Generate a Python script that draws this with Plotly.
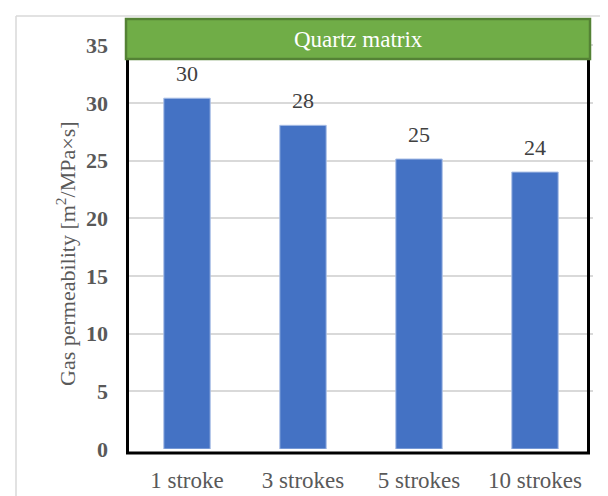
import plotly.graph_objects as go

categories = ["1 stroke", "3 strokes", "5 strokes", "10 strokes"]
permeability = [30.4, 28.05, 25.13, 24.0]
labels = ["30", "28", "25", "24"]
y_ticks = [0, 5, 10, 15, 20, 25, 30, 35]
panel_title = "Quartz matrix"
y_title = "Gas permeability [m<sup>2</sup>/MPa×s]"

FONT = "Liberation Serif, Times New Roman, serif"

W, H = 608, 496
L, R, T, B = 121, 23, 10, 55
ymax = 37.35

fig = go.Figure()
fig.add_trace(go.Bar(
    x=categories, y=permeability,
    marker=dict(color="#4472C4", line=dict(color="#A9BEE6", width=1)),
    width=0.4,
    hoverinfo="skip",
))

for c, v, t in zip(categories, permeability, labels):
    fig.add_annotation(x=c, y=v, text=t, showarrow=False, yanchor="bottom",
                       yshift=10, font=dict(family=FONT, size=22, color="#404040"))

pw = W - L - R
ph = H - T - B
def px_x(p):
    return (p - L) / pw
def px_y(p):
    return (H - B - p) / ph

shapes = [
    # outer light border
    dict(type="line", xref="paper", yref="paper", x0=px_x(8), x1=px_x(608), y0=px_y(8), y1=px_y(8),
         line=dict(color="#D9D9D9", width=1.5)),
    dict(type="line", xref="paper", yref="paper", x0=px_x(8), x1=px_x(8), y0=px_y(8), y1=px_y(496),
         line=dict(color="#D9D9D9", width=1.5)),
    # black frame
    dict(type="rect", xref="paper", yref="paper", x0=px_x(119.5), x1=px_x(580.5), y0=px_y(445), y1=px_y(12),
         line=dict(color="black", width=3), layer="above"),
    # green header band
    dict(type="rect", xref="paper", yref="paper", x0=px_x(118), x1=px_x(582), y0=px_y(51), y1=px_y(11),
         fillcolor="#70AD47", line=dict(color="#548235", width=2.5), layer="above"),
]

fig.add_annotation(xref="paper", yref="paper", x=(px_x(118) + px_x(582)) / 2, y=(px_y(51) + px_y(11)) / 2,
                   text=panel_title, showarrow=False, xanchor="center", yanchor="middle",
                   font=dict(family=FONT, size=23, color="white"))

fig.add_annotation(xref="paper", yref="paper", x=px_x(58), y=px_y(246), text=y_title,
                   textangle=-90, showarrow=False, xanchor="center", yanchor="middle",
                   font=dict(family=FONT, size=22, color="#595959"))

fig.update_layout(
    width=W, height=H,
    margin=dict(l=L, r=R, t=T, b=B, autoexpand=False),
    paper_bgcolor="white", plot_bgcolor="white",
    showlegend=False,
    shapes=shapes,
    font=dict(family=FONT),
    xaxis=dict(showline=False, showgrid=False, ticks="", ticklabelstandoff=15,
               tickfont=dict(family=FONT, size=23, color="#595959")),
    yaxis=dict(range=[0, ymax], tickvals=y_ticks, ticktext=[f"<b>{v}</b>" for v in y_ticks],
               showgrid=True, gridcolor="#D9D9D9", gridwidth=1.5, zeroline=False,
               showline=False, ticks="", ticklabelstandoff=20,
               tickfont=dict(family=FONT, size=22, color="#595959")),
)

fig.write_html("out.html")
